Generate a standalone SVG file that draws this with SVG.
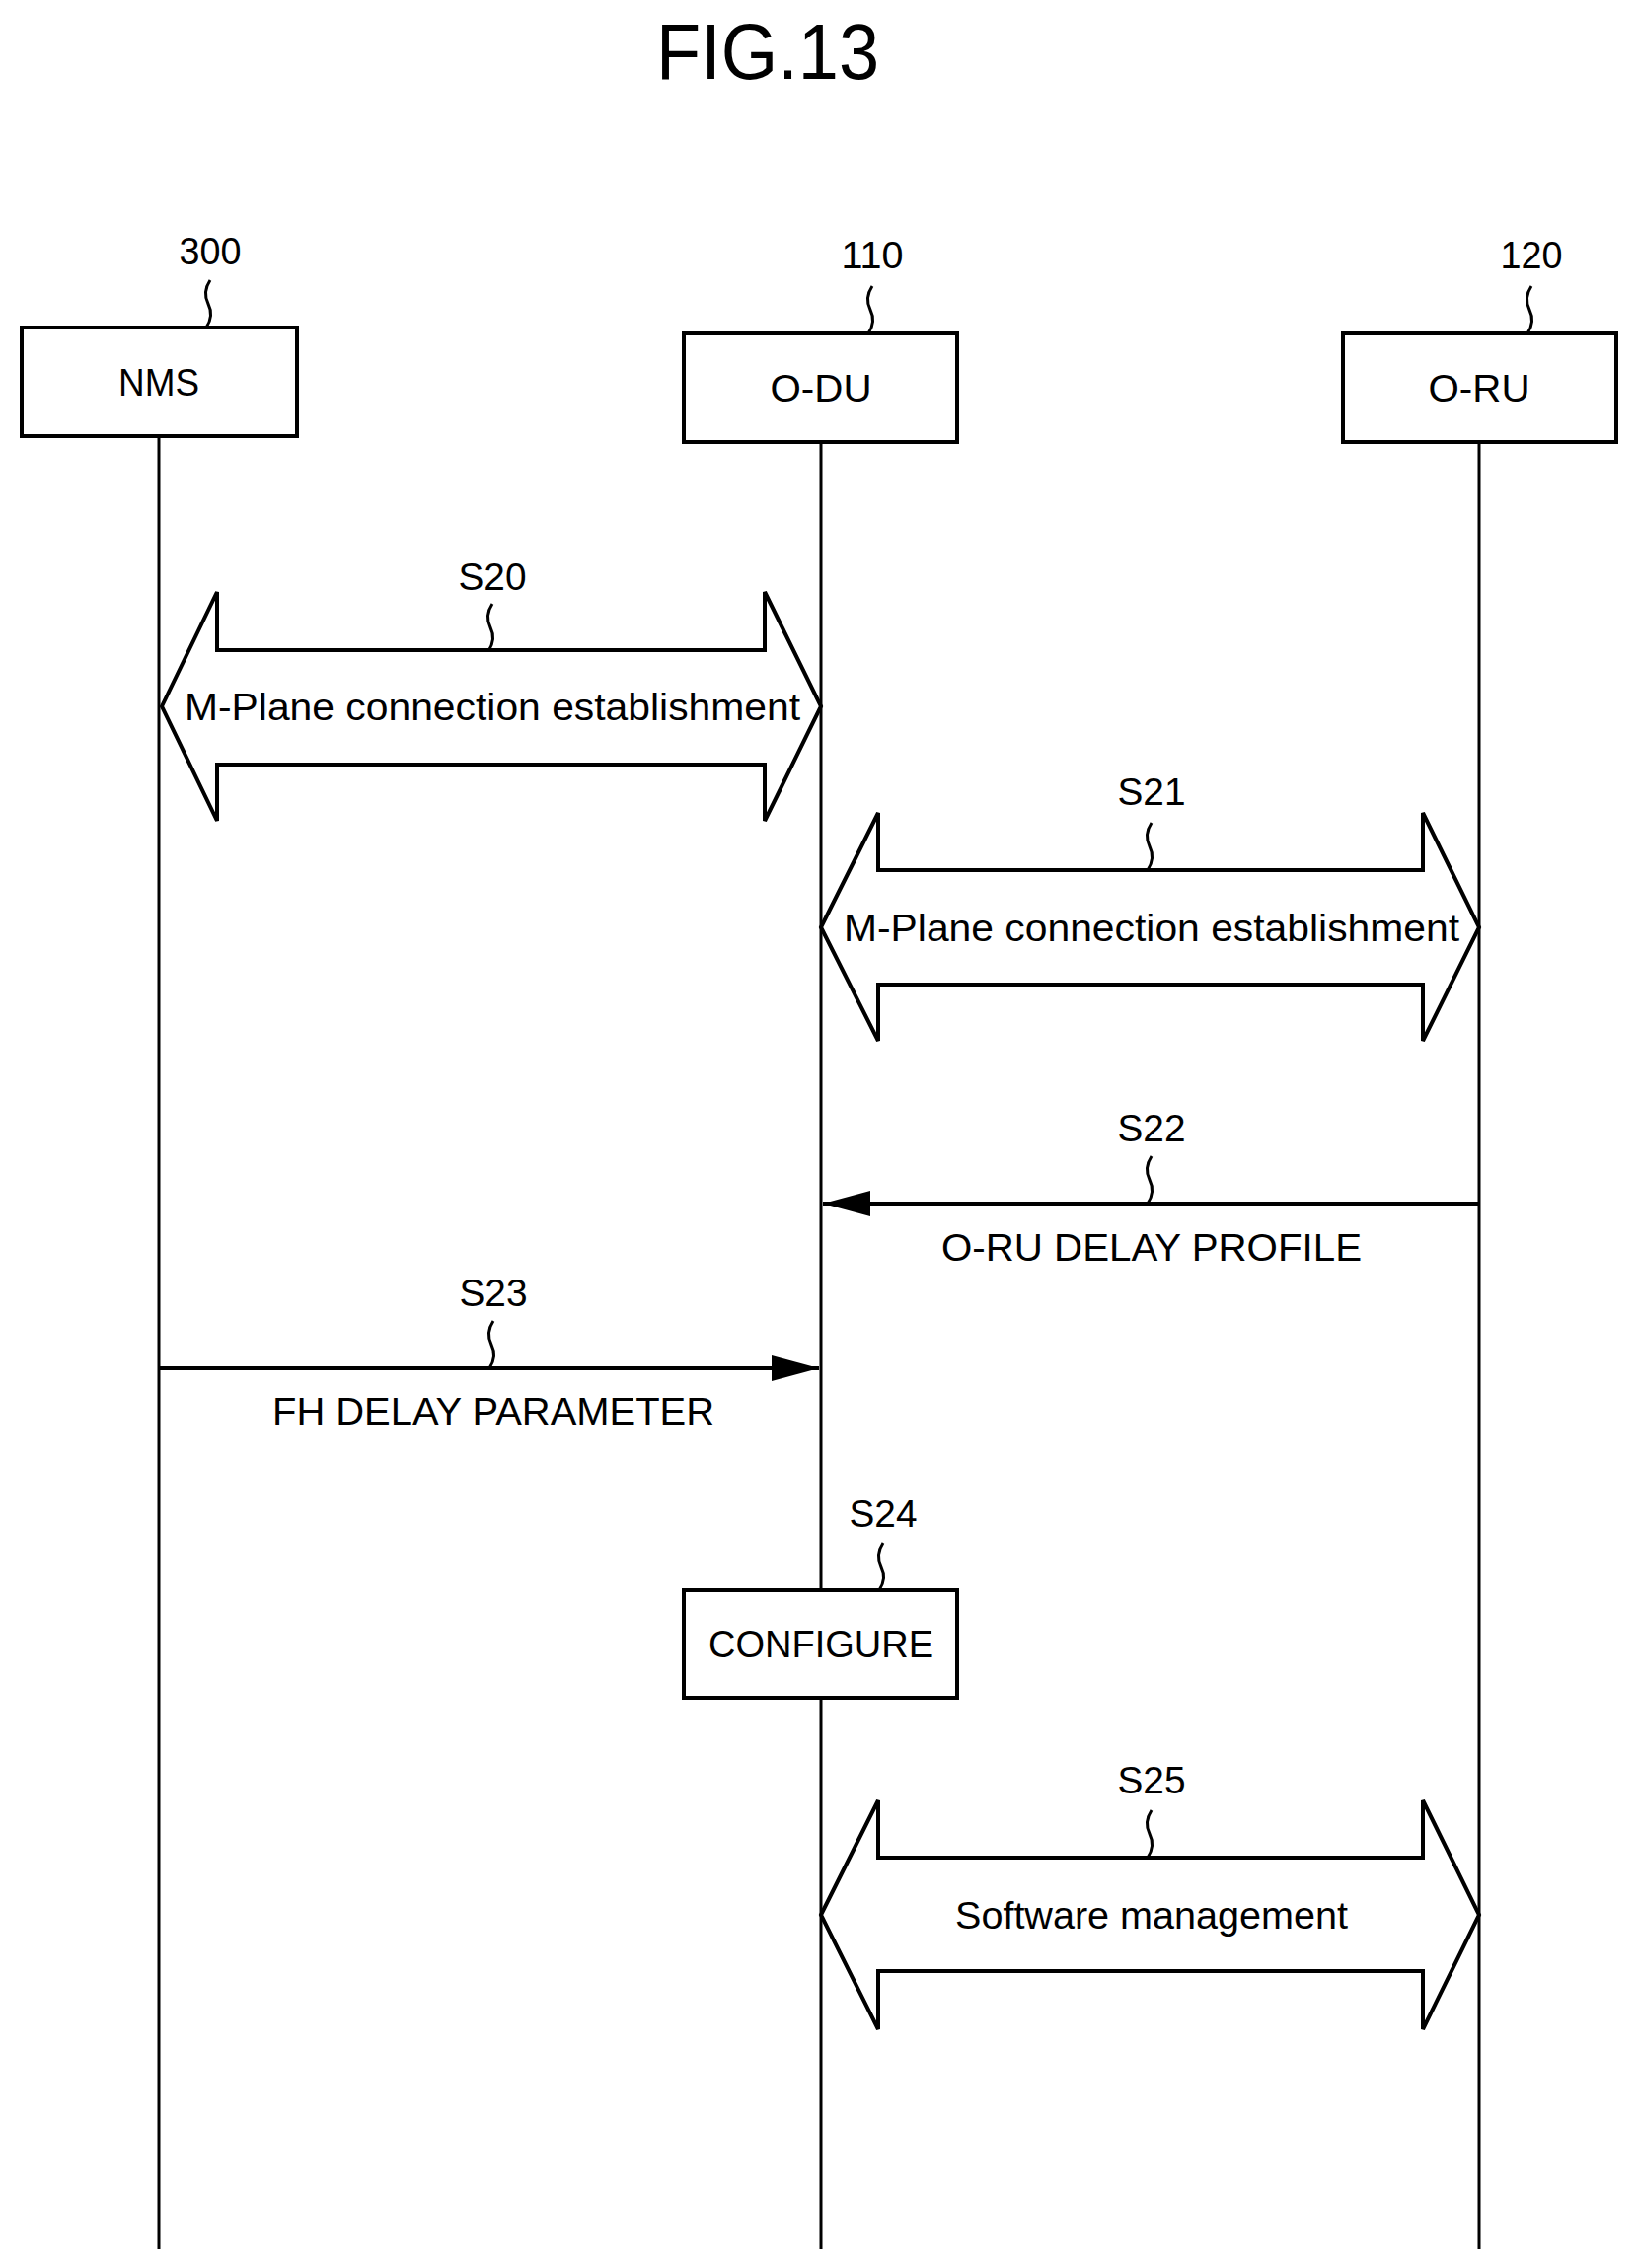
<svg xmlns="http://www.w3.org/2000/svg" width="1660" height="2299" viewBox="0 0 1660 2299">
<style>
text{font-family:"Liberation Sans",Arial,sans-serif;font-size:38px;fill:#000;text-anchor:middle}
.box{fill:#fff;stroke:#000;stroke-width:4}
.ln{fill:none;stroke:#000;stroke-width:3}
.arr{fill:#fff;stroke:#000;stroke-width:4;stroke-linejoin:miter}
.msg{fill:none;stroke:#000;stroke-width:4}
</style>
<defs>
<marker id="ah" viewBox="0 0 10 10" refX="10" refY="5" markerWidth="12" markerHeight="6" markerUnits="userSpaceOnUse" orient="auto"><path d="M0,0 L10,5 L0,10 z" fill="#000"/></marker>
<marker id="ah2" viewBox="0 0 48 26" refX="48" refY="13" markerWidth="48" markerHeight="26" markerUnits="userSpaceOnUse" orient="auto"><path d="M0,0 L48,13 L0,26 z" fill="#000"/></marker>
</defs>
<text x="778" y="80" style="font-size:80px" textLength="226" lengthAdjust="spacingAndGlyphs">FIG.13</text>
<g id="lifelines">
<line class="ln" x1="161" y1="442" x2="161" y2="2280"/>
<line class="ln" x1="832" y1="448" x2="832" y2="2280"/>
<line class="ln" x1="1499" y1="448" x2="1499" y2="2280"/>
</g>
<g id="nms">
<rect class="box" x="22" y="332" width="279" height="110"/>
<text x="161" y="401" textLength="82" lengthAdjust="spacingAndGlyphs">NMS</text>
<text x="213" y="268" textLength="63" lengthAdjust="spacingAndGlyphs">300</text>
<path class="ln" d="M213,284 q-8,12 -2,24 t-2,24"/>
</g>
<g id="odu">
<rect class="box" x="693" y="338" width="277" height="110"/>
<text x="832" y="407" textLength="103" lengthAdjust="spacingAndGlyphs">O-DU</text>
<text x="884" y="272" textLength="63" lengthAdjust="spacingAndGlyphs">110</text>
<path class="ln" d="M884,290 q-8,12 -2,24 t-2,24"/>
</g>
<g id="oru">
<rect class="box" x="1361" y="338" width="277" height="110"/>
<text x="1499" y="407" textLength="103" lengthAdjust="spacingAndGlyphs">O-RU</text>
<text x="1552" y="272" textLength="63" lengthAdjust="spacingAndGlyphs">120</text>
<path class="ln" d="M1552,290 q-8,12 -2,24 t-2,24"/>
</g>
<g id="s24">
<text x="895" y="1548" textLength="69" lengthAdjust="spacingAndGlyphs">S24</text>
<path class="ln" d="M895,1564 q-8,12 -2,24 t-2,24"/>
<rect class="box" x="693" y="1612" width="277" height="109"/>
<text x="832" y="1680" textLength="228" lengthAdjust="spacingAndGlyphs">CONFIGURE</text>
</g>
<g id="connectors">
<g id="s20">
<path class="arr" d="M164,716 L220,600 L220,659 L775,659 L775,600 L832,716 L775,832 L775,775 L220,775 L220,832 Z"/>
<text x="499" y="598" textLength="69" lengthAdjust="spacingAndGlyphs">S20</text>
<path class="ln" d="M499,612 q-8,12 -2,24 t-2,24"/>
<text x="499" y="730" textLength="624" lengthAdjust="spacingAndGlyphs">M-Plane connection establishment</text>
</g>
<g id="s21">
<path class="arr" d="M832,940 L890,824 L890,882 L1442,882 L1442,824 L1499,940 L1442,1055 L1442,998 L890,998 L890,1055 Z"/>
<text x="1167" y="816" textLength="69" lengthAdjust="spacingAndGlyphs">S21</text>
<path class="ln" d="M1167,834 q-8,12 -2,24 t-2,24"/>
<text x="1167" y="954" textLength="624" lengthAdjust="spacingAndGlyphs">M-Plane connection establishment</text>
</g>
<g id="s22">
<line class="msg" x1="1499" y1="1220" x2="834" y2="1220" marker-end="url(#ah2)"/>
<text x="1167" y="1157" textLength="69" lengthAdjust="spacingAndGlyphs">S22</text>
<path class="ln" d="M1167,1172 q-8,12 -2,24 t-2,24"/>
<text x="1167" y="1278" textLength="426" lengthAdjust="spacingAndGlyphs">O-RU DELAY PROFILE</text>
</g>
<g id="s23">
<line class="msg" x1="161" y1="1387" x2="830" y2="1387" marker-end="url(#ah2)"/>
<text x="500" y="1324" textLength="69" lengthAdjust="spacingAndGlyphs">S23</text>
<path class="ln" d="M500,1339 q-8,12 -2,24 t-2,24"/>
<text x="500" y="1444" textLength="448" lengthAdjust="spacingAndGlyphs">FH DELAY PARAMETER</text>
</g>
<g id="s25">
<path class="arr" d="M832,1941 L890,1825 L890,1883 L1442,1883 L1442,1825 L1499,1941 L1442,2057 L1442,1998 L890,1998 L890,2057 Z"/>
<text x="1167" y="1818" textLength="69" lengthAdjust="spacingAndGlyphs">S25</text>
<path class="ln" d="M1167,1835 q-8,12 -2,24 t-2,24"/>
<text x="1167" y="1955" textLength="398" lengthAdjust="spacingAndGlyphs">Software management</text>
</g>
</g>
</svg>
